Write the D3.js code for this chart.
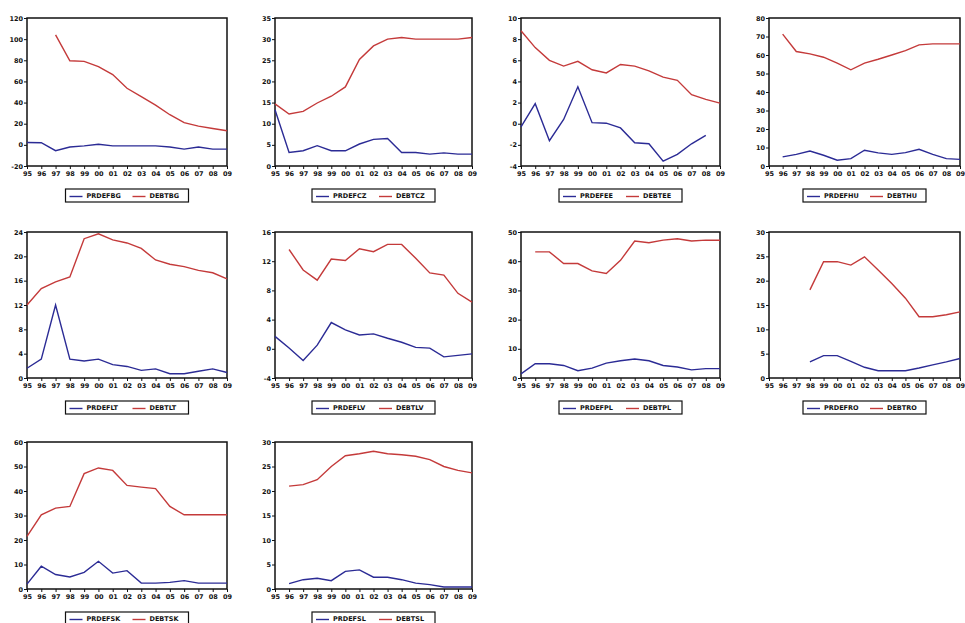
<!DOCTYPE html>
<html>
<head>
<meta charset="utf-8">
<style>
body { margin: 0; background: #fff; }
svg text { font-family: 'DejaVu Sans', sans-serif; font-weight: bold; fill: #111; }
</style>
</head>
<body>

<script src="https://d3js.org/d3.v7.min.js"></script>
<script>

const years = [1995, 1996, 1997, 1998, 1999, 2000, 2001, 2002, 2003, 2004, 2005, 2006, 2007, 2008, 2009];
const yearLabels = ['95', '96', '97', '98', '99', '00', '01', '02', '03', '04', '05', '06', '07', '08', '09'];
const countries = ['BG', 'CZ', 'EE', 'HU', 'LT', 'LV', 'PL', 'RO', 'SK', 'SL'];

// primary deficit, % of GDP (null = no data)
const prdefBG = [2.2, 2.0, -5.5, -2.0, -1.0, 0.6, -1.0, -1.0, -1.0, -1.0, -2.0, -4.0, -2.0, -4.0, -4.0];
const prdefCZ = [13.3, 3.2, 3.6, 4.8, 3.6, 3.6, 5.2, 6.3, 6.5, 3.2, 3.2, 2.8, 3.1, 2.8, 2.8];
const prdefEE = [-0.3, 1.9, -1.6, 0.4, 3.5, 0.1, 0.05, -0.4, -1.8, -1.9, -3.55, -2.9, -1.9, -1.1, null];
const prdefHU = [null, 4.9, 6.3, 8.1, 5.8, 3.1, 4.0, 8.5, 7.1, 6.3, 7.2, 9.0, 6.3, 4.0, 3.6];
const prdefLT = [1.6, 3.1, 12.0, 3.1, 2.8, 3.1, 2.2, 1.9, 1.25, 1.5, 0.7, 0.7, 1.1, 1.5, 0.9];
const prdefLV = [1.7, 0.1, -1.6, 0.5, 3.6, 2.6, 1.9, 2.05, 1.45, 0.9, 0.2, 0.1, -1.1, -0.9, -0.7];
const prdefPL = [1.4, 4.9, 4.9, 4.3, 2.5, 3.4, 5.1, 5.9, 6.5, 5.9, 4.3, 3.75, 2.8, 3.2, 3.2];
const prdefRO = [null, null, null, 3.3, 4.6, 4.6, 3.4, 2.2, 1.5, 1.5, 1.5, 2.05, 2.7, 3.3, 4.0];
const prdefSK = [2.0, 9.3, 5.9, 4.9, 6.8, 11.3, 6.5, 7.5, 2.4, 2.4, 2.7, 3.4, 2.4, 2.4, 2.4];
const prdefSL = [null, 1.1, 1.9, 2.2, 1.7, 3.6, 3.9, 2.4, 2.4, 1.9, 1.2, 0.9, 0.4, 0.4, 0.4];

// government debt, % of GDP
const debtBG = [null, null, 104.0, 79.5, 79.0, 74.0, 66.5, 53.5, 45.6, 37.6, 28.5, 21.0, 17.7, 15.5, 13.3];
const debtCZ = [14.7, 12.3, 12.9, 14.9, 16.5, 18.7, 25.2, 28.4, 30.0, 30.4, 30.0, 30.0, 30.0, 30.0, 30.4];
const debtEE = [8.8, 7.2, 6.0, 5.45, 5.9, 5.1, 4.8, 5.6, 5.45, 5.0, 4.4, 4.1, 2.75, 2.3, 1.95];
const debtHU = [null, 71.3, 61.9, 60.6, 58.8, 55.6, 52.0, 55.6, 57.7, 60.0, 62.4, 65.5, 66.0, 66.0, 66.0];
const debtLT = [12.0, 14.7, 15.8, 16.6, 22.9, 23.7, 22.7, 22.2, 21.3, 19.4, 18.7, 18.3, 17.7, 17.3, 16.3];
const debtLV = [null, 13.6, 10.8, 9.4, 12.3, 12.1, 13.7, 13.3, 14.3, 14.3, 12.4, 10.4, 10.1, 7.6, 6.4];
const debtPL = [null, 43.2, 43.2, 39.2, 39.2, 36.7, 35.8, 40.3, 46.9, 46.3, 47.2, 47.7, 46.9, 47.2, 47.2];
const debtRO = [null, null, null, 18.1, 23.9, 23.9, 23.2, 24.9, 22.2, 19.4, 16.4, 12.6, 12.6, 13.0, 13.6];
const debtSK = [21.5, 30.3, 33.0, 33.7, 47.1, 49.4, 48.4, 42.3, 41.6, 41.0, 33.7, 30.3, 30.3, 30.3, 30.3];
const debtSL = [null, 21.0, 21.3, 22.3, 25.0, 27.2, 27.6, 28.1, 27.6, 27.4, 27.1, 26.4, 25.0, 24.2, 23.7];

// y axis range and tick step per panel
const yMin = [-20, 0, -4, 0, 0, -4, 0, 0, 0, 0];
const yMax = [120, 35, 10, 80, 24, 16, 50, 30, 60, 30];
const yStep = [20, 5, 2, 10, 4, 4, 10, 5, 10, 5];

const prdefs = [prdefBG, prdefCZ, prdefEE, prdefHU, prdefLT, prdefLV, prdefPL, prdefRO, prdefSK, prdefSL];
const debts = [debtBG, debtCZ, debtEE, debtHU, debtLT, debtLV, debtPL, debtRO, debtSK, debtSL];

// layout of the grid
const width = 965;
const height = 623;
const colLeft = [27, 275, 521, 769];
const colWidth = [200, 197, 199, 191];
const rowTop = [18, 232, 442];
const rowHeight = [148, 146, 147];
const blue = '#2b2b95';
const red = '#c43a3a';

const svg = d3.select('body')
  .append('svg')
  .attr('width', width)
  .attr('height', height);

countries.forEach((code, i) => {
  const col = i % 4;
  const row = Math.floor(i / 4);
  const w = colWidth[col];
  const h = rowHeight[row];

  const g = svg.append('g')
    .attr('transform', `translate(${colLeft[col]},${rowTop[row]})`);

  const x = d3.scaleLinear().domain([years[0], years[years.length - 1]]).range([0, w]);
  const y = d3.scaleLinear().domain([yMin[i], yMax[i]]).range([h, 0]);

  const yTicks = d3.range(yMin[i], yMax[i] + yStep[i] / 2, yStep[i]);

  const yAxis = g.append('g')
    .call(d3.axisLeft(y).tickValues(yTicks).tickSize(3).tickPadding(1).tickFormat(d => String(d)));
  const xAxis = g.append('g')
    .attr('transform', `translate(0,${h})`)
    .call(d3.axisBottom(x).tickValues(years).tickSize(3).tickPadding(2)
      .tickFormat((d, k) => yearLabels[k]));

  [yAxis, xAxis].forEach(a => {
    a.select('.domain').remove();
    a.selectAll('text').attr('font-size', 6.5).attr('fill', '#111');
    a.selectAll('line').attr('stroke', '#111');
  });

  g.append('rect')
    .attr('width', w)
    .attr('height', h)
    .attr('fill', 'none')
    .attr('stroke', '#111')
    .attr('stroke-width', 1.5);

  const line = d3.line()
    .defined(d => d[1] !== null)
    .x(d => x(d[0]))
    .y(d => y(d[1]));

  const series = [
    { name: 'PRDEF' + code, values: prdefs[i], color: blue },
    { name: 'DEBT' + code, values: debts[i], color: red }
  ];

  series.forEach(s => {
    g.append('path')
      .datum(years.map((yr, k) => [yr, s.values[k]]))
      .attr('fill', 'none')
      .attr('stroke', s.color)
      .attr('stroke-width', 1.4)
      .attr('d', line);
  });

  // legend box under the frame
  const lw = 123;
  const lh = 13;
  const legend = g.append('g')
    .attr('transform', `translate(${(w - lw) / 2},${h + 23})`);

  legend.append('rect')
    .attr('width', lw)
    .attr('height', lh)
    .attr('fill', '#fff')
    .attr('stroke', '#111')
    .attr('stroke-width', 1.2);

  series.forEach((s, k) => {
    const ox = 4 + k * 63;
    legend.append('line')
      .attr('x1', ox)
      .attr('x2', ox + 13)
      .attr('y1', lh / 2 + 1)
      .attr('y2', lh / 2 + 1)
      .attr('stroke', s.color)
      .attr('stroke-width', 1.4);
    legend.append('text')
      .attr('x', ox + 17)
      .attr('y', lh / 2 + 2.5)
      .attr('font-size', 6.5)
      .text(s.name);
  });
});

</script>
</body>
</html>
